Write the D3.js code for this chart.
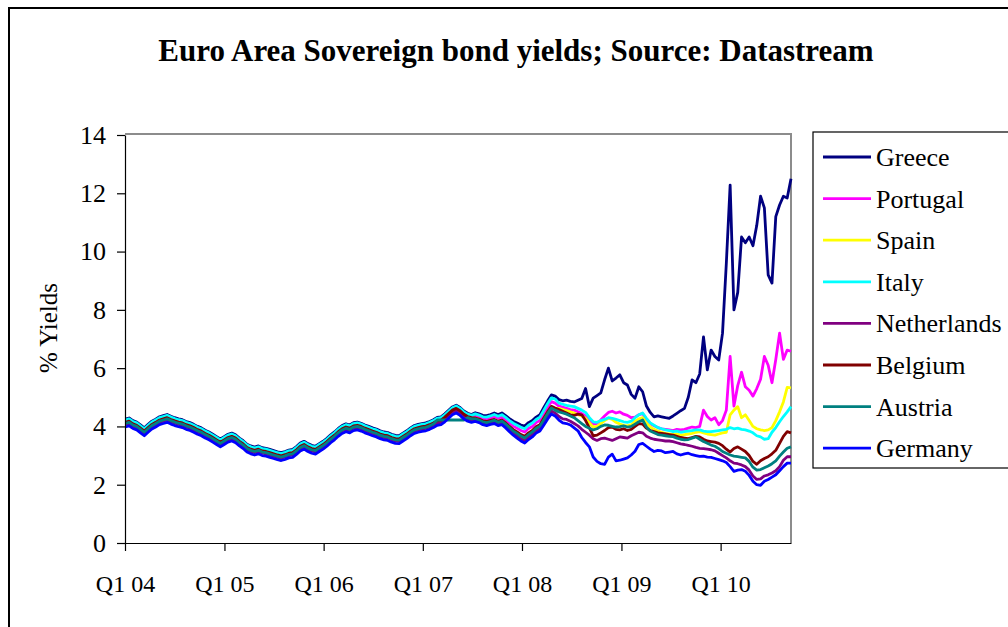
<!DOCTYPE html>
<html>
<head>
<meta charset="utf-8">
<script src="https://cdn.jsdelivr.net/npm/d3@7"></script>
<style>
  body { margin: 0; background: #fff; }
  svg text { font-family: "Liberation Serif", "Times New Roman", serif; fill: #000; }
</style>
</head>
<body>
<div id="chart"></div>
<script>
// 10y government bond yields (%), one reading every 14 days from 2 Jan 2004
const greece = [
  4.25,4.29,4.20,4.15,4.05,3.95,4.07,4.18,4.25,4.33,
  4.37,4.41,4.35,4.30,4.26,4.23,4.17,4.13,4.07,4.00,
  3.95,3.87,3.81,3.73,3.65,3.57,3.65,3.73,3.77,3.71,
  3.60,3.51,3.39,3.33,3.29,3.33,3.27,3.25,3.21,3.17,
  3.13,3.10,3.14,3.19,3.21,3.31,3.43,3.49,3.41,3.35,
  3.32,3.41,3.49,3.59,3.71,3.81,3.93,4.03,4.09,4.05,
  4.13,4.15,4.11,4.05,4.00,3.95,3.91,3.85,3.81,3.79,
  3.73,3.69,3.68,3.77,3.85,3.95,4.03,4.07,4.10,4.12,
  4.17,4.23,4.31,4.33,4.43,4.55,4.67,4.73,4.65,4.53,
  4.45,4.41,
  4.47,4.43,4.38,4.37,4.41,4.46,4.41,4.46,4.37,4.27,
  4.18,4.12,4.05,4.01,4.13,4.20,4.32,4.40,4.64,4.87,5.08,5.04,
  4.92,4.88,4.90,4.86,4.84,4.90,4.96,5.30,4.68,4.97,
  5.06,5.15,5.60,6.00,5.56,5.66,5.77,5.50,5.42,5.10,
  4.97,5.36,5.19,4.70,4.48,4.33,4.36,4.33,4.30,4.28,
  4.36,4.45,4.54,4.62,5.00,5.60,5.50,5.80,7.07,5.94,
  6.62,6.40,6.28,7.20,9.60,12.28,8.00,8.60,10.50,10.30,
  10.50,10.20,10.90,11.90,11.50,9.20,8.92,11.20,11.60,11.90,
  11.84,12.50
];
const portugal = [
  4.18,4.22,4.13,4.08,3.98,3.88,4.00,4.11,4.18,4.26,
  4.30,4.34,4.28,4.23,4.19,4.16,4.10,4.06,4.00,3.93,
  3.88,3.80,3.74,3.66,3.58,3.50,3.58,3.66,3.70,3.64,
  3.53,3.44,3.32,3.26,3.22,3.26,3.20,3.18,3.14,3.10,
  3.06,3.03,3.07,3.12,3.14,3.24,3.36,3.42,3.34,3.28,
  3.25,3.34,3.42,3.52,3.64,3.74,3.86,3.96,4.02,3.98,
  4.06,4.08,4.04,3.98,3.93,3.88,3.84,3.78,3.74,3.72,
  3.66,3.62,3.61,3.70,3.78,3.88,3.96,4.00,4.03,4.05,
  4.10,4.16,4.24,4.26,4.36,4.48,4.60,4.66,4.58,4.46,
  4.38,4.34,
  4.37,4.33,4.27,4.25,4.29,4.33,4.28,4.32,4.22,4.11,
  4.01,3.94,3.86,3.81,3.93,4.00,4.13,4.20,4.43,4.65,4.85,4.80,
  4.70,4.66,4.62,4.58,4.56,4.50,4.44,4.36,4.20,4.08,
  4.10,4.22,4.36,4.48,4.52,4.46,4.50,4.42,4.38,4.30,
  4.32,4.40,4.44,4.24,4.10,4.02,3.96,3.92,3.90,3.88,
  3.86,3.90,3.88,3.90,3.94,3.98,3.96,4.00,4.56,4.34,
  4.22,4.30,4.06,4.20,4.56,6.40,4.70,5.40,5.86,5.36,
  5.24,5.04,5.30,5.62,6.40,6.10,5.50,6.30,7.20,6.30,
  6.62,6.58
];
const spain = [
  4.12,4.16,4.07,4.02,3.92,3.82,3.94,4.05,4.12,4.20,
  4.24,4.28,4.22,4.17,4.13,4.10,4.04,4.00,3.94,3.87,
  3.82,3.74,3.68,3.60,3.52,3.44,3.52,3.60,3.64,3.58,
  3.47,3.38,3.26,3.20,3.16,3.20,3.14,3.12,3.08,3.04,
  3.00,2.97,3.01,3.06,3.08,3.18,3.30,3.36,3.28,3.22,
  3.19,3.28,3.36,3.46,3.58,3.68,3.80,3.90,3.96,3.92,
  4.00,4.02,3.98,3.92,3.87,3.82,3.78,3.72,3.68,3.66,
  3.60,3.56,3.55,3.64,3.72,3.82,3.90,3.94,3.97,3.99,
  4.04,4.10,4.18,4.20,4.30,4.42,4.54,4.60,4.52,4.40,
  4.32,4.28,
  4.28,4.24,4.17,4.15,4.19,4.23,4.16,4.20,4.10,3.98,
  3.87,3.78,3.69,3.63,3.75,3.84,3.96,4.04,4.25,4.47,4.66,4.60,
  4.62,4.58,4.54,4.50,4.46,4.40,4.36,4.28,4.12,3.98,
  4.00,4.10,4.20,4.28,4.24,4.14,4.08,4.04,4.02,4.06,
  4.18,4.26,4.30,4.12,3.98,3.90,3.84,3.80,3.76,3.74,
  3.72,3.74,3.70,3.72,3.74,3.76,3.80,3.82,3.78,3.74,
  3.72,3.70,3.74,3.78,3.80,4.40,4.56,4.68,4.30,4.40,
  4.20,4.00,3.92,3.88,3.86,3.88,3.96,4.20,4.50,4.84,
  5.34,5.32
];
const italy = [
  4.22,4.26,4.17,4.12,4.02,3.92,4.04,4.15,4.22,4.30,
  4.34,4.38,4.32,4.27,4.23,4.20,4.14,4.10,4.04,3.97,
  3.92,3.84,3.78,3.70,3.62,3.54,3.62,3.70,3.74,3.68,
  3.57,3.48,3.36,3.30,3.26,3.30,3.24,3.22,3.18,3.14,
  3.10,3.07,3.11,3.16,3.18,3.28,3.40,3.46,3.38,3.32,
  3.29,3.38,3.46,3.56,3.68,3.78,3.90,4.00,4.06,4.02,
  4.10,4.12,4.08,4.02,3.97,3.92,3.88,3.82,3.78,3.76,
  3.70,3.66,3.65,3.74,3.82,3.92,4.00,4.04,4.07,4.09,
  4.14,4.20,4.28,4.30,4.40,4.52,4.64,4.70,4.62,4.50,
  4.42,4.38,
  4.43,4.39,4.33,4.32,4.36,4.41,4.35,4.40,4.31,4.20,
  4.11,4.04,3.97,3.92,4.04,4.12,4.24,4.32,4.55,4.78,4.98,4.94,
  4.80,4.76,4.72,4.70,4.68,4.62,4.56,4.48,4.30,4.16,
  4.14,4.20,4.24,4.30,4.28,4.24,4.20,4.16,4.14,4.18,
  4.30,4.40,4.46,4.28,4.12,4.04,3.96,3.92,3.88,3.86,
  3.82,3.84,3.80,3.82,3.84,3.86,3.88,3.88,3.84,3.82,
  3.82,3.84,3.86,3.88,3.90,3.96,3.92,3.94,3.90,3.88,
  3.84,3.78,3.68,3.64,3.56,3.58,3.80,3.96,4.16,4.34,
  4.50,4.68
];
const netherlands = [
  4.06,4.10,4.01,3.96,3.86,3.76,3.88,3.99,4.06,4.14,
  4.18,4.22,4.16,4.11,4.07,4.04,3.98,3.94,3.88,3.81,
  3.76,3.68,3.62,3.54,3.46,3.38,3.46,3.54,3.58,3.52,
  3.41,3.32,3.20,3.14,3.10,3.14,3.08,3.06,3.02,2.98,
  2.94,2.91,2.95,3.00,3.02,3.12,3.24,3.30,3.22,3.16,
  3.13,3.22,3.30,3.40,3.52,3.62,3.74,3.84,3.90,3.86,
  3.94,3.96,3.92,3.86,3.81,3.76,3.72,3.66,3.62,3.60,
  3.54,3.50,3.49,3.58,3.66,3.76,3.84,3.88,3.91,3.93,
  3.98,4.04,4.12,4.14,4.24,4.36,4.48,4.54,4.46,4.34,
  4.26,4.22,
  4.22,4.18,4.11,4.08,4.12,4.15,4.09,4.12,4.01,3.89,
  3.77,3.68,3.58,3.52,3.64,3.72,3.85,3.92,4.13,4.34,4.53,4.46,
  4.34,4.26,4.24,4.18,4.10,4.02,3.90,3.80,3.70,3.58,
  3.52,3.58,3.60,3.56,3.52,3.58,3.64,3.62,3.60,3.68,
  3.74,3.80,3.78,3.66,3.60,3.56,3.54,3.52,3.50,3.50,
  3.48,3.44,3.40,3.38,3.35,3.32,3.28,3.25,3.24,3.22,
  3.20,3.16,3.08,3.00,2.92,2.82,2.74,2.72,2.68,2.62,
  2.50,2.30,2.18,2.20,2.30,2.34,2.40,2.48,2.62,2.84,
  2.96,2.96
];
const belgium = [
  4.14,4.18,4.09,4.04,3.94,3.84,3.96,4.07,4.14,4.22,
  4.26,4.30,4.24,4.19,4.15,4.12,4.06,4.02,3.96,3.89,
  3.84,3.76,3.70,3.62,3.54,3.46,3.54,3.62,3.66,3.60,
  3.49,3.40,3.28,3.22,3.18,3.22,3.16,3.14,3.10,3.06,
  3.02,2.99,3.03,3.08,3.10,3.20,3.32,3.38,3.30,3.24,
  3.21,3.30,3.38,3.48,3.60,3.70,3.82,3.92,3.98,3.94,
  4.02,4.04,4.00,3.94,3.89,3.84,3.80,3.74,3.70,3.68,
  3.62,3.58,3.57,3.66,3.74,3.84,3.92,3.96,3.99,4.01,
  4.06,4.12,4.20,4.22,4.32,4.44,4.56,4.62,4.54,4.42,
  4.34,4.30,
  4.29,4.25,4.19,4.17,4.21,4.24,4.18,4.22,4.12,4.00,
  3.89,3.81,3.72,3.66,3.78,3.86,3.99,4.06,4.28,4.50,4.69,4.63,
  4.58,4.52,4.46,4.40,4.38,4.42,4.40,4.20,3.95,3.68,
  3.70,3.78,3.86,3.96,3.98,3.90,3.88,3.92,3.86,3.90,
  4.00,4.10,4.08,3.94,3.86,3.82,3.78,3.76,3.74,3.72,
  3.70,3.66,3.62,3.60,3.58,3.62,3.66,3.64,3.56,3.50,
  3.48,3.46,3.42,3.34,3.22,3.12,3.24,3.30,3.22,3.14,
  3.00,2.80,2.70,2.82,2.90,2.96,3.06,3.18,3.42,3.66,
  3.82,3.78
];
const austria = [
  4.10,4.14,4.05,4.00,3.90,3.80,3.92,4.03,4.10,4.18,
  4.22,4.26,4.20,4.15,4.11,4.08,4.02,3.98,3.92,3.85,
  3.80,3.72,3.66,3.58,3.50,3.42,3.50,3.58,3.62,3.56,
  3.45,3.36,3.24,3.18,3.14,3.18,3.12,3.10,3.06,3.02,
  2.98,2.95,2.99,3.04,3.06,3.16,3.28,3.34,3.26,3.20,
  3.17,3.26,3.34,3.44,3.56,3.66,3.78,3.88,3.94,3.90,
  3.98,4.00,3.96,3.90,3.85,3.80,3.76,3.70,3.66,3.64,
  3.58,3.54,3.53,3.62,3.70,3.80,3.88,3.92,3.95,3.97,
  4.02,4.08,4.22,4.22,4.22,4.22,4.22,4.22,4.22,4.22,
  4.30,4.26,
  4.26,4.22,4.16,4.13,4.17,4.21,4.14,4.18,4.08,3.96,
  3.84,3.76,3.67,3.60,3.72,3.81,3.94,4.01,4.22,4.44,4.63,4.56,
  4.50,4.46,4.42,4.36,4.30,4.20,4.10,4.00,3.94,3.88,
  3.92,4.00,4.05,4.04,4.00,3.98,3.99,4.02,3.98,4.00,
  4.08,4.16,4.22,3.98,3.84,3.78,3.72,3.70,3.68,3.66,
  3.65,3.60,3.56,3.54,3.55,3.60,3.64,3.56,3.48,3.42,
  3.36,3.32,3.24,3.14,3.08,3.02,2.98,2.96,2.94,2.92,
  2.80,2.60,2.50,2.52,2.58,2.64,2.72,2.82,2.98,3.12,
  3.25,3.30
];
const germany = [
  3.98,4.02,3.93,3.88,3.78,3.68,3.80,3.91,3.98,4.06,
  4.10,4.14,4.08,4.03,3.99,3.96,3.90,3.86,3.80,3.73,
  3.68,3.60,3.54,3.46,3.38,3.30,3.38,3.46,3.50,3.44,
  3.33,3.24,3.12,3.06,3.02,3.06,3.00,2.98,2.94,2.90,
  2.86,2.83,2.87,2.92,2.94,3.04,3.16,3.22,3.14,3.08,
  3.05,3.14,3.22,3.32,3.44,3.54,3.66,3.76,3.82,3.78,
  3.86,3.88,3.84,3.78,3.73,3.68,3.64,3.58,3.54,3.52,
  3.46,3.42,3.41,3.50,3.58,3.68,3.76,3.80,3.83,3.85,
  3.90,3.96,4.04,4.06,4.16,4.28,4.40,4.46,4.38,4.26,
  4.18,4.14,
  4.17,4.13,4.06,4.03,4.07,4.10,4.03,4.06,3.95,3.82,
  3.70,3.60,3.50,3.43,3.55,3.64,3.77,3.84,4.04,4.25,4.43,4.36,
  4.22,4.12,4.10,4.05,3.95,3.85,3.62,3.45,3.30,2.95,
  2.80,2.72,2.70,2.95,3.05,2.82,2.84,2.88,2.92,3.02,
  3.15,3.38,3.42,3.32,3.22,3.14,3.18,3.16,3.10,3.12,
  3.14,3.06,3.02,3.06,3.08,3.03,3.00,2.97,2.98,2.95,
  2.94,2.90,2.86,2.82,2.76,2.62,2.46,2.50,2.52,2.46,
  2.32,2.12,2.00,1.98,2.12,2.18,2.26,2.34,2.48,2.62,
  2.74,2.74
];

const countries = ["Greece", "Portugal", "Spain", "Italy", "Netherlands", "Belgium", "Austria", "Germany"];
const seriesValues = [greece, portugal, spain, italy, netherlands, belgium, austria, germany];
const seriesColors = ["#000080", "#ff00ff", "#ffff00", "#00ffff", "#800080", "#800000", "#008080", "#0000ff"];
const tickYears = [2004, 2005, 2006, 2007, 2008, 2009, 2010];
const yTicks = [0, 2, 4, 6, 8, 10, 12, 14];
const startDate = new Date(2004, 0, 2);
const stepDays = 14;

const width = 1008;
const height = 627;
const plot = { left: 125, right: 791, top: 135, bottom: 543 };

const dateAt = i => d3.timeDay.offset(startDate, i * stepDays);
const lastDate = dateAt(d3.max(seriesValues, s => s.length) - 1);

const svg = d3.select("#chart")
  .append("svg")
  .attr("width", width)
  .attr("height", height)
  .attr("viewBox", [0, 0, width, height]);

svg.append("rect")
  .attr("width", width)
  .attr("height", height)
  .attr("fill", "#fff");

// chart border (runs off the right and bottom edges)
svg.append("rect")
  .attr("x", 9)
  .attr("y", 8)
  .attr("width", width + 20)
  .attr("height", height + 20)
  .attr("fill", "none")
  .attr("stroke", "#000")
  .attr("stroke-width", 2);

svg.append("text")
  .attr("x", 516)
  .attr("y", 61)
  .attr("text-anchor", "middle")
  .attr("font-size", "31px")
  .attr("font-weight", "bold")
  .text("Euro Area Sovereign bond yields; Source: Datastream");

const x = d3.scaleTime()
  .domain([new Date(2004, 0, 1), lastDate])
  .range([plot.left, plot.right]);

const y = d3.scaleLinear()
  .domain([0, 14])
  .range([plot.bottom, plot.top]);

// plot area frame (grey top and right)
svg.append("path")
  .attr("d", `M${plot.left},${plot.top - 1}H${plot.right}V${plot.bottom}`)
  .attr("fill", "none")
  .attr("stroke", "#8c8c8c")
  .attr("stroke-width", 2);

const line = d3.line()
  .x((d, i) => x(dateAt(i)))
  .y(d => y(d));

svg.append("g")
  .selectAll("path")
  .data(seriesValues)
  .join("path")
  .attr("d", d => line(d))
  .attr("fill", "none")
  .attr("stroke", (d, i) => seriesColors[i])
  .attr("stroke-width", 2.8)
  .attr("stroke-linejoin", "round");

const yAxis = svg.append("g")
  .attr("transform", `translate(${plot.left},0)`)
  .call(d3.axisLeft(y).tickValues(yTicks).tickSize(8).tickSizeOuter(0).tickPadding(11));

const xAxis = svg.append("g")
  .attr("transform", `translate(0,${plot.bottom})`)
  .call(d3.axisBottom(x)
    .tickValues(tickYears.map(yr => new Date(yr, 0, 1)))
    .tickFormat(d => "Q1 " + d3.timeFormat("%y")(d))
    .tickSize(8)
    .tickSizeOuter(0)
    .tickPadding(24));

[yAxis, xAxis].forEach(ax => {
  ax.select(".domain").attr("stroke", "#000").attr("stroke-width", 1.2);
  ax.selectAll(".tick line").attr("stroke", "#000").attr("stroke-width", 1.2);
  ax.selectAll("text")
    .attr("fill", "#000")
    .attr("font-family", "'Liberation Serif', 'Times New Roman', serif");
});
yAxis.selectAll("text").attr("font-size", "26px");
xAxis.selectAll("text").attr("font-size", "24px");

svg.append("text")
  .attr("transform", `translate(57,328) rotate(-90)`)
  .attr("text-anchor", "middle")
  .attr("font-size", "25px")
  .text("% Yields");

// legend
const legend = svg.append("g");

legend.append("rect")
  .attr("x", 813)
  .attr("y", 132)
  .attr("width", 260)
  .attr("height", 336)
  .attr("fill", "#fff")
  .attr("stroke", "#000")
  .attr("stroke-width", 1.2);

const items = legend.selectAll(".item")
  .data(countries)
  .join("g")
  .attr("class", "item")
  .attr("transform", (d, i) => `translate(0,${157 + i * 41.6})`);

items.append("line")
  .attr("x1", 823)
  .attr("x2", 871)
  .attr("stroke", (d, i) => seriesColors[i])
  .attr("stroke-width", 2.8);

items.append("text")
  .attr("x", 876)
  .attr("y", 9)
  .attr("font-size", "26px")
  .text(d => d);
</script>
</body>
</html>
